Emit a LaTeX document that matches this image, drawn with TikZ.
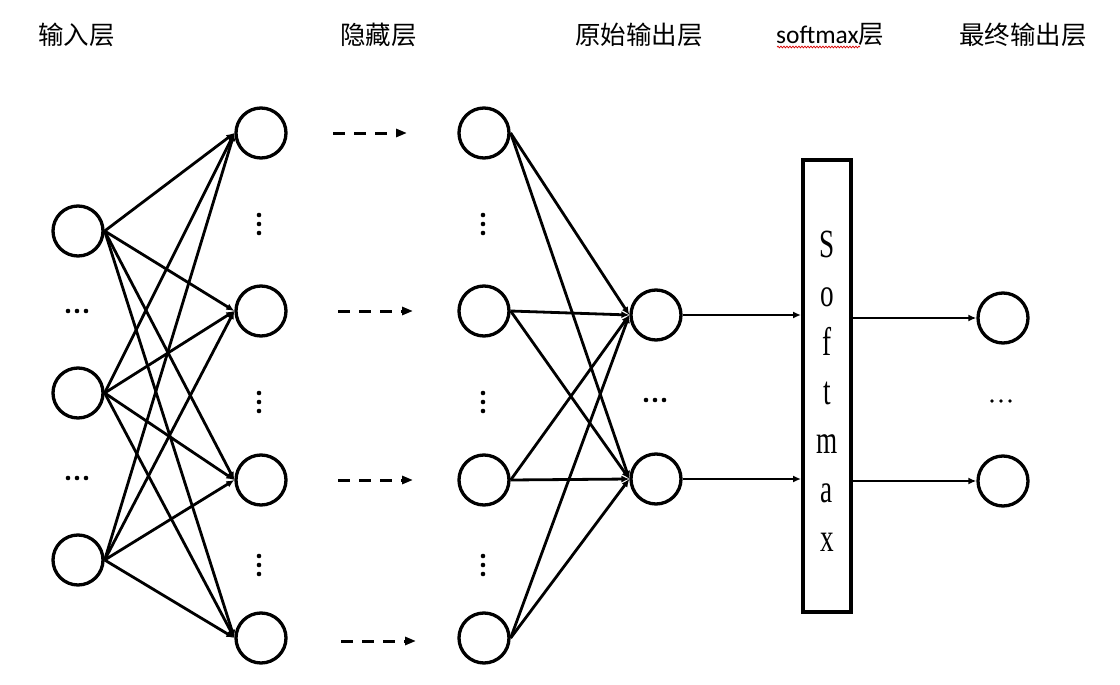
\documentclass[tikz,border=0pt]{standalone}
\usepackage{fontspec}
\usepackage{graphicx}
\setmainfont{Liberation Serif}
\newfontfamily\cjkfont{Noto Sans CJK SC}
\newfontfamily\carlitofont{Carlito}
\usetikzlibrary{arrows.meta,decorations.pathmorphing}

\tikzset{
  neuron/.style={circle, draw, line width=3.3pt, minimum size=50pt, inner sep=0pt},
  conn/.style={line width=2.8pt, -{Latex[length=8pt,width=7pt]}},
  dasharrow/.style={line width=3pt, dash pattern=on 12pt off 9pt,
                    -{Triangle[length=11pt,width=8pt]}},
  title/.style={font=\cjkfont\fontsize{25.5}{30}\selectfont, inner sep=0pt, anchor=west},
  letter/.style={font=\fontsize{40}{40}\selectfont, inner sep=0pt, anchor=base},
  smbox/.style={draw, line width=3.8pt, minimum width=48.2pt, minimum height=452.2pt, inner sep=0pt},
}

\begin{document}
\begin{tikzpicture}[x=1pt, y=-1pt]
  \useasboundingbox (0,0) rectangle (1120,685);

  % layer titles
  \node[title] (t1) at (38,35)  {输入层};
  \node[title] (t2) at (340,35) {隐藏层};
  \node[title] (t3) at (575,35) {原始输出层};
  \node[title] (t4) at (776,35) {{\carlitofont softmax}层};
  \node[title] (t5) at (959,35) {最终输出层};
  % spell-check squiggle under "softmax"
  \draw[red!85!black, line width=0.7pt, decorate,
        decoration={snake, amplitude=0.9pt, segment length=3pt}] (777,47) -- (860,47);

  % input layer
  \node[neuron] (in1) at (78,231) {};
  \node[neuron] (in2) at (78,393) {};
  \node[neuron] (in3) at (78,560) {};

  % first hidden column
  \node[neuron] (h1) at (261,133) {};
  \node[neuron] (h2) at (261,311) {};
  \node[neuron] (h3) at (261,480) {};
  \node[neuron] (h4) at (261,638) {};

  % last hidden column
  \node[neuron] (g1) at (484,133) {};
  \node[neuron] (g2) at (484,311) {};
  \node[neuron] (g3) at (484,480) {};
  \node[neuron] (g4) at (484,638) {};

  % raw output layer
  \node[neuron] (o1) at (656,315) {};
  \node[neuron] (o2) at (656,479) {};

  % softmax block
  \node[smbox] (sm) at (827,386) {};
  \foreach \c [count=\i] in {S,o,f,t,m,a,x}
    \node[letter] (L\i) at (827,{257+49*(\i-1)}) {\scalebox{0.68}[1]{\c}};

  % final output layer
  \node[neuron] (f1) at (1003,318) {};
  \node[neuron] (f2) at (1003,481) {};

  % ellipsis dots
  \foreach \y in {311,478}
    \foreach \x in {68,77,86}
      \fill (\x,\y) circle (2.3pt);
  \foreach \x in {259,483}
    \foreach \y in {224,402,565}
      \foreach \d in {-9,0,9}
        \fill (\x,\y+\d) circle (2.3pt);
  \foreach \x in {646,655,664}
    \fill (\x,400) circle (2.3pt);
  \foreach \x in {992,1001,1010}
    \fill (\x,401) circle (1.9pt);

  % full connections: input -> first hidden
  \foreach \s in {in1,in2,in3}
    \foreach \t in {h1,h2,h3,h4}
      \draw[conn] (\s.east) -- (\t.west);

  % dashed arrows through the hidden stack
  \coordinate (a1) at (333,133); \coordinate (b1) at (407,133);
  \coordinate (a2) at (338,311); \coordinate (b2) at (413,311);
  \coordinate (a3) at (338,480); \coordinate (b3) at (413,480);
  \coordinate (a4) at (341,641); \coordinate (b4) at (416,641);
  \foreach \i in {1,...,4}
    \draw[dasharrow] (a\i) -- (b\i);

  % full connections: last hidden -> raw output
  \foreach \s in {g1,g2,g3,g4}
    \foreach \t in {o1,o2}
      \draw[conn] (\s.east) -- (\t.west);

  % into and out of softmax
  \draw[conn] (o1.east) -- (o1 -| sm.west);
  \draw[conn] (o2.east) -- (o2 -| sm.west);
  \draw[conn] (sm.east |- f1) -- (f1.west);
  \draw[conn] (sm.east |- f2) -- (f2.west);
\end{tikzpicture}
\end{document}
